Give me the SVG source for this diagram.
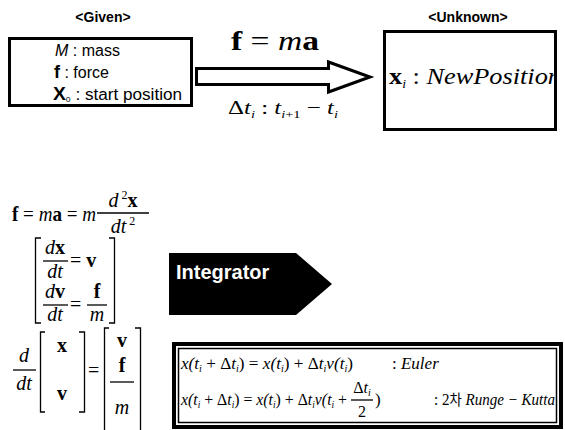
<svg xmlns="http://www.w3.org/2000/svg" width="565" height="430" viewBox="0 0 565 430">
<style>
.lbl{font-family:"Liberation Sans",Arial,sans-serif;font-weight:bold;font-size:14px;fill:#000}
.sans{font-family:"Liberation Sans",Arial,sans-serif;fill:#000;font-size:16px}
.m{font-family:'Liberation Serif','Times New Roman',Times,'DejaVu Serif',serif;fill:#000}
.k{font-family:"Noto Sans CJK KR",sans-serif;font-style:normal}
.i{font-style:italic}
.b{font-weight:bold}
.n{font-style:normal}
.box{fill:#fff;stroke:#000;stroke-width:3}
.bar{stroke:#000;stroke-width:1.3}
.brk{fill:none;stroke:#000;stroke-width:1.3}
</style>
<defs>
<clipPath id="uclip"><rect x="386" y="33" width="168" height="95"/></clipPath>
</defs>
<rect width="565" height="430" fill="#fff"/>

<g id="given">
<text class="lbl" x="103" y="22" text-anchor="middle">&lt;Given&gt;</text>
<rect class="box" x="9.5" y="38.5" width="182" height="67"/>
<text class="sans" x="55" y="56"><tspan class="i">M</tspan> : mass</text>
<text class="sans" x="54" y="78"><tspan class="b" font-size="18">f</tspan> : force</text>
<text class="sans" x="53" y="100" textLength="129" lengthAdjust="spacingAndGlyphs"><tspan class="b" font-size="18">X</tspan><tspan font-size="8" dy="2">0</tspan><tspan dy="-2"> : start position</tspan></text>
</g>

<g id="connectors">
<path d="M196.5,68.5 H328.5 V62 L370,77 L328.5,92 V84.5 H196.5 Z" fill="#fff" stroke="#000" stroke-width="3" stroke-linejoin="miter"/>
<text class="m" x="231" y="50" font-size="27" textLength="88" lengthAdjust="spacingAndGlyphs"><tspan class="b">f</tspan> = <tspan class="i">m</tspan><tspan class="b">a</tspan></text>
<text class="m" x="228" y="114" font-size="19" textLength="110" lengthAdjust="spacingAndGlyphs"><tspan>Δ</tspan><tspan class="i">t</tspan><tspan class="i" font-size="11" dy="4">i</tspan><tspan dy="-4"> : </tspan><tspan class="i">t</tspan><tspan class="i" font-size="11" dy="4">i</tspan><tspan font-size="11">+1</tspan><tspan dy="-4"> − </tspan><tspan class="i">t</tspan><tspan class="i" font-size="11" dy="4">i</tspan></text>
</g>

<g id="unknown">
<text class="lbl" x="468" y="22" text-anchor="middle">&lt;Unknown&gt;</text>
<rect class="box" x="384.5" y="31.5" width="171" height="98"/>
<g clip-path="url(#uclip)">
<text class="m" x="389" y="84" font-size="23" textLength="172" lengthAdjust="spacingAndGlyphs"><tspan class="b">x</tspan><tspan class="i" font-size="12" dy="4">i</tspan><tspan dy="-4"> : </tspan><tspan class="i">NewPosition</tspan></text>
</g>
</g>

<g id="eq-newton">
<text class="m" x="12" y="221" font-size="21" textLength="84" lengthAdjust="spacingAndGlyphs"><tspan class="b">f</tspan> = <tspan class="i">m</tspan><tspan class="b">a</tspan> = <tspan class="i">m</tspan></text>
<text class="m" x="123" y="207" font-size="20" text-anchor="middle"><tspan class="i">d</tspan><tspan font-size="12" dy="-8"> 2</tspan><tspan class="b" dy="8">x</tspan></text>
<line class="bar" x1="97" y1="213" x2="149" y2="213"/>
<text class="m i" x="123" y="233" font-size="20" text-anchor="middle">dt<tspan class="n" font-size="12" dy="-8"> 2</tspan></text>
</g>

<g id="eq-system">
<path class="brk" d="M41,238 H35.5 V323 H41"/>
<path class="brk" d="M109,238 H114.5 V323 H109"/>
<text class="m" x="55" y="254" font-size="20" text-anchor="middle"><tspan class="i">d</tspan><tspan class="b">x</tspan></text>
<line class="bar" x1="43" y1="261" x2="68" y2="261"/>
<text class="m i" x="55" y="278" font-size="20" text-anchor="middle">dt</text>
<text class="m" x="70" y="267" font-size="20">= <tspan class="b">v</tspan></text>
<text class="m" x="55" y="298" font-size="20" text-anchor="middle"><tspan class="i">d</tspan><tspan class="b">v</tspan></text>
<line class="bar" x1="43" y1="305" x2="68" y2="305"/>
<text class="m i" x="55" y="321" font-size="20" text-anchor="middle">dt</text>
<text class="m" x="70" y="311" font-size="20">=</text>
<text class="m b" x="97" y="298" font-size="20" text-anchor="middle">f</text>
<line class="bar" x1="87" y1="305" x2="107" y2="305"/>
<text class="m i" x="97" y="321" font-size="20" text-anchor="middle">m</text>
</g>

<g id="eq-vector">
<text class="m i" x="24" y="362" font-size="20" text-anchor="middle">d</text>
<line class="bar" x1="13" y1="370" x2="36" y2="370"/>
<text class="m i" x="24" y="390" font-size="20" text-anchor="middle">dt</text>
<path class="brk" d="M45,332 H40.5 V412 H45"/>
<path class="brk" d="M79,332 H84.5 V412 H79"/>
<text class="m b" x="62" y="352" font-size="20" text-anchor="middle">x</text>
<text class="m b" x="62" y="400" font-size="20" text-anchor="middle">v</text>
<text class="m" x="88" y="377" font-size="20">=</text>
<path class="brk" d="M109,328 H104.5 V430"/>
<path class="brk" d="M135,328 H140.5 V430"/>
<text class="m b" x="122" y="347" font-size="20" text-anchor="middle">v</text>
<text class="m b" x="122" y="372" font-size="20" text-anchor="middle">f</text>
<line class="bar" x1="110" y1="382" x2="134" y2="382"/>
<text class="m i" x="122" y="414" font-size="20" text-anchor="middle">m</text>
</g>

<g id="integrator">
<polygon points="169,253 296,253 332,284 296,315 169,315" fill="#000"/>
<text x="176" y="279" font-family="Liberation Sans,Arial,sans-serif" font-weight="bold" font-size="20" fill="#fff">Integrator</text>
</g>

<g id="methods">
<rect x="172" y="342" width="391" height="87" fill="#000"/>
<rect x="176" y="346" width="383" height="79" fill="#fff"/>
<rect x="178.5" y="348.5" width="378" height="74" fill="#fff" stroke="#000" stroke-width="1.5"/>
<text class="m i" x="181" y="369" font-size="17" textLength="172" lengthAdjust="spacingAndGlyphs">x(t<tspan font-size="10" dy="3">i</tspan><tspan class="n" dy="-3"> + Δ</tspan>t<tspan font-size="10" dy="3">i</tspan><tspan class="n" dy="-3">) = </tspan>x(t<tspan font-size="10" dy="3">i</tspan><tspan class="n" dy="-3">) + Δ</tspan>t<tspan font-size="10" dy="3">i</tspan><tspan dy="-3">v(t</tspan><tspan font-size="10" dy="3">i</tspan><tspan class="n" dy="-3">)</tspan></text>
<text class="m" x="392" y="369" font-size="17">: <tspan class="i">Euler</tspan></text>
<text class="m i" x="181" y="405" font-size="17" textLength="166" lengthAdjust="spacingAndGlyphs">x(t<tspan font-size="10" dy="3">i</tspan><tspan class="n" dy="-3"> + Δ</tspan>t<tspan font-size="10" dy="3">i</tspan><tspan class="n" dy="-3">) = </tspan>x(t<tspan font-size="10" dy="3">i</tspan><tspan class="n" dy="-3">) + Δ</tspan>t<tspan font-size="10" dy="3">i</tspan><tspan dy="-3">v(t</tspan><tspan font-size="10" dy="3">i</tspan><tspan class="n" dy="-3"> +</tspan></text>
<text class="m" x="362" y="393" font-size="16" text-anchor="middle">Δ<tspan class="i">t</tspan><tspan class="i" font-size="10" dy="3">i</tspan></text>
<line class="bar" x1="351" y1="400" x2="373" y2="400"/>
<text class="m" x="362" y="417" font-size="16" text-anchor="middle">2</text>
<text class="m" x="375" y="405" font-size="17">)</text>
<text class="m" x="434" y="405" font-size="17" textLength="121" lengthAdjust="spacingAndGlyphs">: 2<tspan class="k" font-size="15">차</tspan> <tspan class="i">Runge − Kutta</tspan></text>
</g>
</svg>
